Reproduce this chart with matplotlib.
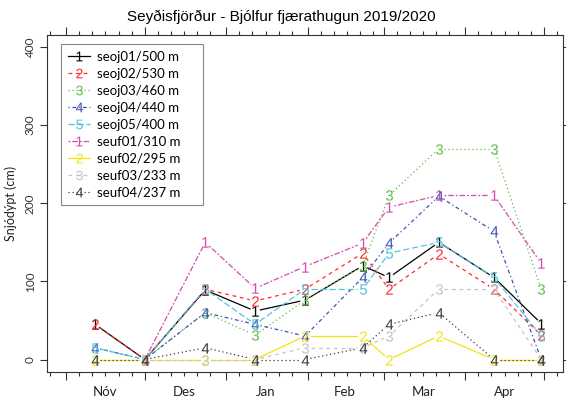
import numpy as np
import pandas as pd
import matplotlib
matplotlib.use('Agg')
import matplotlib.pyplot as plt
import matplotlib.dates as mdates
from matplotlib.lines import Line2D

plt.rcParams['mathtext.fontset'] = 'custom'
plt.rcParams['mathtext.rm'] = 'Liberation Sans'
plt.rcParams['mathtext.it'] = 'Liberation Sans'

# athugunardagar
dates = pd.to_datetime(['2019-11-12', '2019-12-01', '2019-12-24', '2020-01-12', '2020-01-31',
                        '2020-02-22', '2020-03-03', '2020-03-22', '2020-04-12', '2020-04-30'])

nan = np.nan
seoj01 = [45, 0, 89, 62, 76, 120, 105, 150, 105, 46]
seoj02 = [45, 0, 90, 75, 90, 136, 90, 135, 90, 31]
seoj03 = [nan, 0, 60, 31, 76, 120, 210, 270, 270, 90]
seoj04 = [15, 0, 60, 45, 30, 105, 149, 209, 164, 0]
seoj05 = [15, 0, 90, 45, 90, 90, 136, 150, 105, 30]
seuf01 = [nan, 0, 150, 91, 119, 149, 195, 210, 210, 123]
seuf02 = [0, 0, 0, 0, 30, 30, 0, 30, 0, 0]
seuf03 = [nan, 0, 0, 0, 15, 15, 30, 90, 90, 0]
seuf04 = [0, 0, 15, 0, 0, 15, 45, 60, 0, 0]

names = ['seoj01/500 m', 'seoj02/530 m', 'seoj03/460 m', 'seoj04/440 m', 'seoj05/400 m',
         'seuf01/310 m', 'seuf02/295 m', 'seuf03/233 m', 'seuf04/237 m']
series = [seoj01, seoj02, seoj03, seoj04, seoj05, seuf01, seuf02, seuf03, seuf04]
pch = ['1', '2', '3', '4', '5', '1', '2', '3', '4']
cols = ['black', '#ff2a2a', '#5cc046', '#3f4fb8', '#55c3e0', '#d24cb2', '#f5e214', '#c4c4c4', '#3a3a3a']
# R lty 1..6
ltys = ['-', (0, (3, 3)), (0, (1, 2.2)), (0, (1, 2.2, 3, 2.2)), (0, (5, 2.2)), (0, (1.5, 1.5, 4.5, 1.5)),
        '-', (0, (3, 3)), (0, (1, 2.2))]

month_pos = pd.to_datetime(['2019-11-16', '2019-12-16', '2020-01-16', '2020-02-15', '2020-03-16', '2020-04-16'])
month_lab = ['Nóv', 'Des', 'Jan', 'Feb', 'Mar', 'Apr']

fig = plt.figure(figsize=(5.66, 4.03), dpi=100)
ax = fig.add_axes([47/566, 31/403, 516/566, 337.5/403])

x0 = pd.Timestamp('2019-11-01') - pd.Timedelta(days=7.28)
x1 = pd.Timestamp('2020-05-01') + pd.Timedelta(days=7.28)
ax.set_xlim(x0, x1)
ax.set_ylim(-16, 416)

# eins og type="b" í R: línubil kringum táknin
gap = 5.5
xnum = mdates.date2num(dates)
inv = ax.transData.inverted()
for y, c, ls, p in zip(series, cols, ltys, pch):
    y = np.asarray(y, float)
    pts = ax.transData.transform(np.column_stack([xnum, y]))
    for i in range(len(y) - 1):
        if np.isnan(y[i]) or np.isnan(y[i + 1]):
            continue
        a, b = pts[i], pts[i + 1]
        d = np.hypot(*(b - a))
        if d <= 2 * gap:
            continue
        u = (b - a) / d
        seg = inv.transform(np.array([a + u * gap, b - u * gap]))
        ax.plot(seg[:, 0], seg[:, 1], color=c, ls=ls, lw=0.9, zorder=2)
    ax.plot(xnum, y, ls='none', color=c, marker=f'${p}$', ms=7.5, mew=0, zorder=3)

ax.set_xlim(x0, x1)
ax.set_ylim(-16, 416)

for s in ax.spines.values():
    s.set_color('#333333')
    s.set_linewidth(0.8)

# y-ás
ax.set_yticks([0, 100, 200, 300, 400])
ax.set_yticklabels(['0', '100', '200', '300', '400'], rotation=90, va='center',
                   family='Lato', fontsize=8.5, color='#333333')
ax.tick_params(axis='y', which='both', direction='out', length=5, width=0.8, color='#333333',
               right=True, labelright=False, pad=3)
ax.set_ylabel('Snjódýpt (cm)', family='Lato', fontsize=9, labelpad=6, color='#222222')

# x-ás (neðri og efri): mánaðamót og 5 daga bil
ax.xaxis.set_major_locator(mdates.MonthLocator())
ax.xaxis.set_minor_locator(mdates.DayLocator(bymonthday=[6, 11, 16, 21, 26]))
ax.xaxis.set_major_formatter(plt.NullFormatter())
ax.tick_params(axis='x', which='major', direction='out', length=6, width=0.8, color='#333333',
               top=True)
ax.tick_params(axis='x', which='minor', direction='out', length=3, width=0.8, color='#333333',
               top=True)
for d, lab in zip(month_pos, month_lab):
    ax.text(d, -0.059, lab, transform=ax.get_xaxis_transform(), ha='center', va='center',
            family='Lato', fontsize=9.5, color='#222222')

handles = [Line2D([], [], color=c, ls=ls, lw=0.9, marker=f'${p}$', ms=7, mew=0)
           for c, ls, p in zip(cols, ltys, pch)]
leg = ax.legend(handles, names, loc='upper left',
                bbox_to_anchor=(14/516, 0, 142/516, 1 - 9.5/337.5), mode='expand',
                borderaxespad=0, prop={'family': 'Lato', 'size': 9.5}, handlelength=1.7,
                handletextpad=0.55, labelspacing=0.38, fancybox=False, framealpha=1,
                borderpad=0.5, numpoints=1)
leg.get_frame().set_edgecolor('#888888')
leg.get_frame().set_linewidth(0.8)

fig.text(281/566, 1 - 17/403, 'Seyðisfjörður - Bjólfur fjærathugun 2019/2020',
         ha='center', va='center', family='Liberation Sans', fontsize=11)

fig.savefig('out.png', dpi=100)
